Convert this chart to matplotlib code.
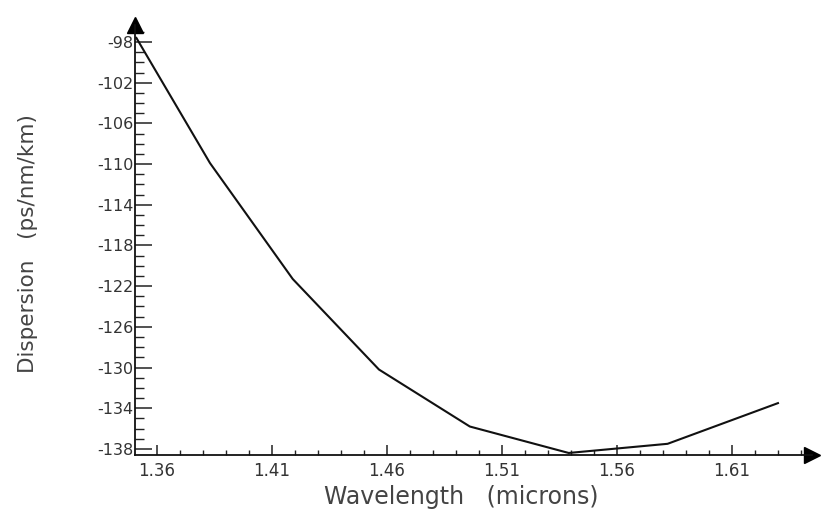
import numpy as np
import matplotlib
matplotlib.use("Agg")
import matplotlib.pyplot as plt
from matplotlib.ticker import MultipleLocator, FixedLocator

# Data
wavelength = [1.351, 1.383, 1.419, 1.4565, 1.496, 1.539, 1.582, 1.630]
dispersion = [-97.6, -109.9, -121.3, -130.2, -135.8, -138.4, -137.5, -133.5]

x_major = [1.36, 1.41, 1.46, 1.51, 1.56, 1.61]
x_labels = ["1.36", "1.41", "1.46", "1.51", "1.56", "1.61"]
y_major = [-138, -134, -130, -126, -122, -118, -114, -110, -106, -102, -98]

W, H = 822, 515
fig = plt.figure(figsize=(W / 100, H / 100), dpi=100)
left, right, top, bottom = 135, 812, 25, 455
ax = fig.add_axes([left / W, (H - bottom) / H, (right - left) / W, (bottom - top) / H])

ax.plot(wavelength, dispersion, color="#111111", lw=1.5)

ax.set_xlim(1.3504, 1.6448)
ax.set_ylim(-138.6, -96.33)

for s in ["top", "right"]:
    ax.spines[s].set_visible(False)
for s in ["left", "bottom"]:
    ax.spines[s].set_linewidth(1.3)
    ax.spines[s].set_color("#111111")

ax.xaxis.set_major_locator(FixedLocator(x_major))
ax.set_xticklabels(x_labels)
ax.xaxis.set_minor_locator(MultipleLocator(0.01))
ax.yaxis.set_major_locator(FixedLocator(y_major))
ax.set_yticklabels([str(v) for v in y_major])
ax.yaxis.set_minor_locator(MultipleLocator(1))

ax.tick_params(axis="y", which="major", direction="in", length=12, width=1.1,
               color="#222222", labelsize=11.5, labelcolor="#333333", pad=1)
ax.tick_params(axis="y", which="minor", direction="in", length=6.5, width=1.0,
               color="#222222")
ax.tick_params(axis="x", which="major", direction="in", length=7, width=1.1,
               color="#222222", labelsize=12, labelcolor="#333333", pad=5)
ax.tick_params(axis="x", which="minor", direction="in", length=3.5, width=1.0,
               color="#222222")

# arrow heads at axis ends
ax.plot([0], [1.0], marker="^", markersize=11, color="black", transform=ax.transAxes,
        clip_on=False)
ax.plot([1.0], [0], marker=">", markersize=11, color="black", transform=ax.transAxes,
        clip_on=False)

fig.text(461 / W, 1 - 497 / H, "Wavelength   (microns)", ha="center", va="center",
         fontsize=17, color="#444444")
fig.text(28 / W, 1 - 244 / H, "Dispersion   (ps/nm/km)", ha="center", va="center",
         rotation=90, fontsize=15.5, color="#444444")

fig.savefig("out.png", dpi=100)
